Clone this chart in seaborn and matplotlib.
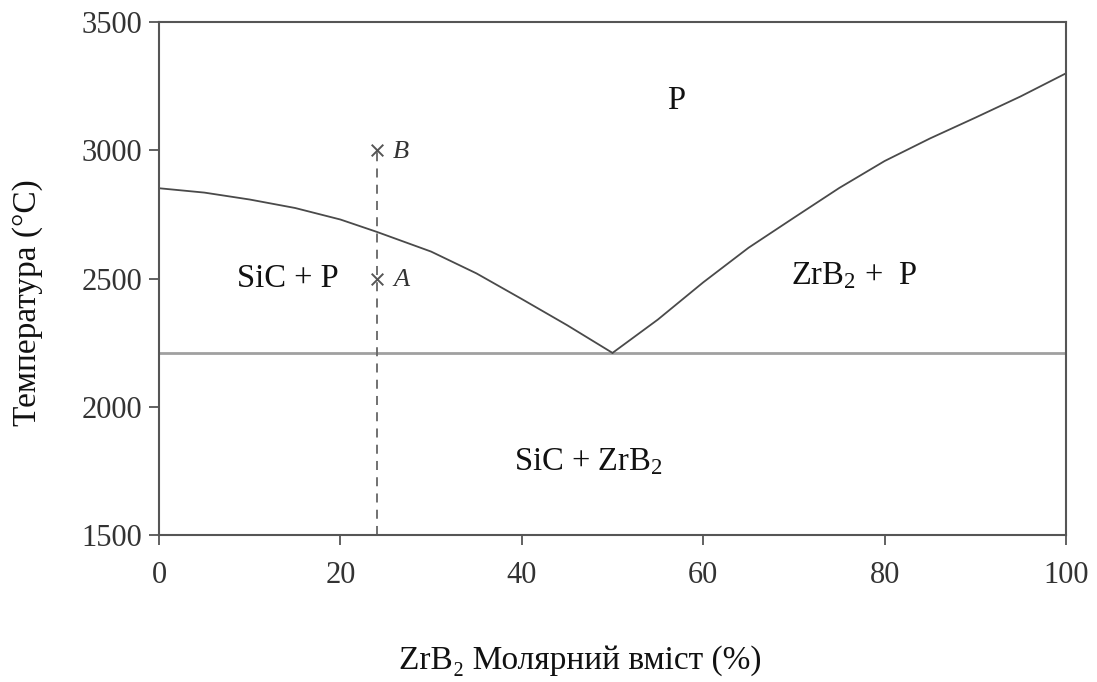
import matplotlib
matplotlib.use("Agg")
import matplotlib.pyplot as plt
import seaborn as sns
import pandas as pd

# ---- data ----
left_x = [0, 5, 10, 15, 20, 24, 30, 35, 40, 45, 50]
left_T = [2852, 2835, 2808, 2775, 2730, 2682, 2605, 2520, 2420, 2318, 2210]
right_x = [50, 55, 60, 65, 70, 75, 80, 85, 90, 95, 100]
right_T = [2210, 2340, 2485, 2620, 2737, 2853, 2958, 3046, 3127, 3210, 3300]
eutectic_T = 2210
comp_x = 24
point_names = ["A", "B"]
point_T = [2500, 3000]
x_ticks = [0, 20, 40, 60, 80, 100]
y_ticks = [1500, 2000, 2500, 3000, 3500]
region_labels = ["P", "SiC + P", "ZrB$_2$ +  P", "SiC + ZrB$_2$"]
region_pos = [(57, 3195), (14.2, 2500), (76.7, 2510), (47.3, 1785)]

sns.set_theme(style="white")
plt.rcParams["font.family"] = ["Liberation Serif", "DejaVu Serif"]
plt.rcParams["mathtext.fontset"] = "custom"
plt.rcParams["mathtext.rm"] = "Liberation Serif"
plt.rcParams["mathtext.it"] = "Liberation Serif:italic"

fig = plt.figure(figsize=(10.97, 6.82), dpi=100)
ax = fig.add_axes([0.145, 0.2155, 0.8267, 0.7522])

dfl = pd.DataFrame({"x": left_x, "T": left_T})
dfr = pd.DataFrame({"x": right_x, "T": right_T})
sns.lineplot(data=dfl, x="x", y="T", ax=ax, color="#4a4a4a", lw=1.3,
             estimator=None, sort=False)
sns.lineplot(data=dfr, x="x", y="T", ax=ax, color="#4a4a4a", lw=1.3,
             estimator=None, sort=False)

ax.axhline(eutectic_T, color="#a0a0a0", lw=2.0, zorder=1)
ax.plot([comp_x, comp_x], [y_ticks[0], max(point_T)], color="#666666",
        lw=1.3, ls=(0, (5, 4)))
dfp = pd.DataFrame({"x": [comp_x] * len(point_T), "T": point_T})
sns.scatterplot(data=dfp, x="x", y="T", ax=ax, marker="x", color="#555555",
                s=70, linewidth=1.4, zorder=4)
for name, t in zip(point_names, point_T):
    ax.text(comp_x + 1.8, t - 5, name, fontsize=19, style="italic",
            color="#333333", ha="left", va="center")

for lab, (px, py) in zip(region_labels, region_pos):
    ax.text(px, py, lab, fontsize=23.5, color="#111111", ha="center", va="center")

ax.set_xlim(0, 100)
ax.set_ylim(1500, 3500)
ax.set_xticks(x_ticks)
ax.set_yticks(y_ticks)
ax.tick_params(axis="both", direction="out", length=7, width=1.3,
               color="#555555", labelsize=22, labelcolor="#333333", pad=5,
               bottom=True, left=True)
ax.tick_params(axis="x", pad=12)
for s in ax.spines.values():
    s.set_color("#555555")
    s.set_linewidth(1.5)

ax.set_xlabel("")
ax.set_ylabel("Температура (°C)", fontsize=24, color="#111111")
ax.yaxis.set_label_coords(-0.128, 0.454)
fig.text(0.529, 0.032, "ZrB₂ Молярний вміст (%)", fontsize=24,
         color="#111111", ha="center", va="center")

fig.savefig("out.png", dpi=100, facecolor="white")
